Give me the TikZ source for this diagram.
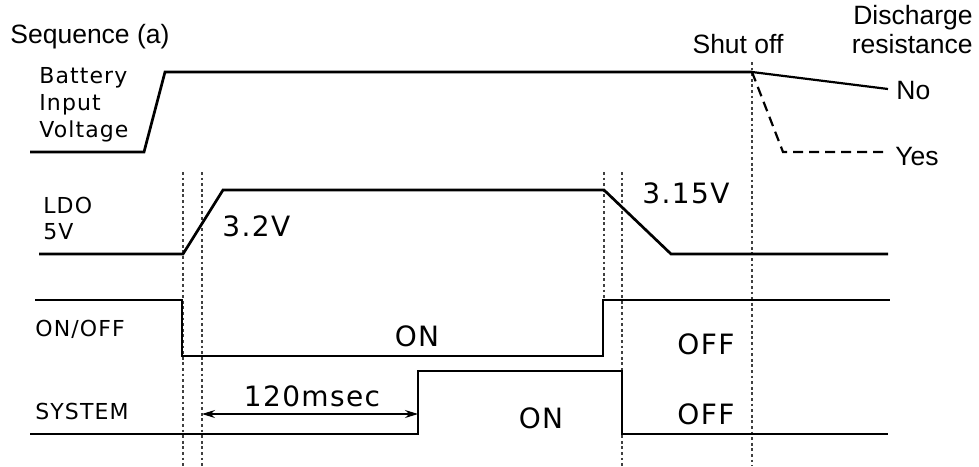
\documentclass[tikz,border=0pt]{standalone}
\usepackage{fontspec}
\setmainfont{Liberation Sans}
\newfontfamily\jpfont[LetterSpace=5]{DejaVu Sans}
\usetikzlibrary{arrows.meta}
\tikzset{
  sig/.style={line width=1.35pt,line join=miter},
  guide/.style={gray!50!black,line width=0.6pt,dash pattern=on 1.4pt off 1.4pt},
  rowlbl/.style={font=\jpfont\fontsize{11}{13}\selectfont,anchor=base west,inner sep=0pt},
  vallbl/.style={font=\jpfont\fontsize{14}{16}\selectfont,anchor=base,inner sep=0pt},
  txtlbl/.style={font=\fontsize{13.25}{16}\selectfont,inner sep=0pt},
  dimarr/.style={{Stealth[length=6.5pt,width=4pt]}-{Stealth[length=6.5pt,width=4pt]},line width=0.55pt}
}
\begin{document}
\begin{tikzpicture}[x=0.5pt,y=-0.5pt]
  \useasboundingbox (0,0) rectangle (979,466);
  % Guide lines
  \draw[guide] (183,172) -- (183,466);
  \draw[guide] (202,172) -- (202,466);
  \draw[guide] (604,172) -- (604,300);
  \draw[guide] (622,172) -- (622,466);
  \draw[guide] (752,62) -- (752,466);

  % Titles
  \node[txtlbl,anchor=base west] (seq) at (10,43) {Sequence (a)};
  \node[txtlbl,anchor=base] (shut) at (738,53) {Shut off};
  \node[txtlbl,anchor=base east] (dis1) at (973,25) {Discharge};
  \node[txtlbl,anchor=base east] (dis2) at (973,53) {resistance};

  % Battery input voltage
  \node[rowlbl] (bat1) at (39,83) {Battery};
  \node[rowlbl] (bat2) at (39,110) {Input};
  \node[rowlbl] (bat3) at (39,137) {Voltage};
  \draw[sig] (30,152) -- (144,152) -- (165,72) coordinate (bhi) -- (752,72) coordinate (boff);
  \draw[sig,line width=1.1pt] (boff) -- (888,89) coordinate (bno);
  \draw[line width=1.1pt,dash pattern=on 5pt off 3pt] (boff) -- (783,152) -- (888,152) coordinate (byes);
  \node[txtlbl,anchor=base west] (no) at (896,99) {No};
  \node[txtlbl,anchor=base west] (yes) at (895,165) {Yes};

  % LDO 5V
  \node[rowlbl] (ldo1) at (43,213) {LDO};
  \node[rowlbl] (ldo2) at (43,239) {5V};
  \draw[sig] (39,254) -- (183,254) -- (223,190) -- (604,190) -- (671,254) -- (888,254);
  \node[vallbl,anchor=base west] (v32) at (222,236) {3.2V};
  \node[vallbl,anchor=base west] (v315) at (642,203) {3.15V};

  % ON/OFF
  \node[rowlbl] (onoff) at (35,336) {ON/OFF};
  \draw[sig] (35,300) -- (182,300) -- (182,356) -- (603,356) -- (603,300) -- (890,300);
  \node[vallbl] (on1) at (417,346) {ON};
  \node[vallbl] (off1) at (706,354) {OFF};

  % SYSTEM
  \node[rowlbl] (sys) at (35,419) {SYSTEM};
  \draw[sig] (30,434) -- (418,434) coordinate (srise) -- (418,371) -- (622,371) -- (622,434) -- (888,434);
  \coordinate (tstart) at (202,414);
  \coordinate (tend) at (418,414);
  \draw[dimarr] (tstart) -- (tend);
  \node[vallbl] (dly) at (312,406) {120msec};
  \node[vallbl] (on2) at (541,428) {ON};
  \node[vallbl] (off2) at (706,424) {OFF};
\end{tikzpicture}
\end{document}
